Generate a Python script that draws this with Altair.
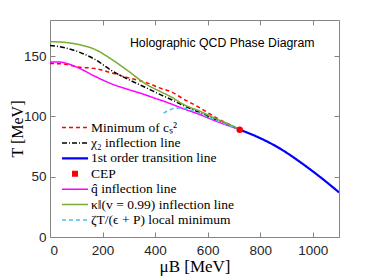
import altair as alt
import pandas as pd

# ---------------- data ----------------
labels = [
    "Minimum of cₛ²",
    "χ₂ inflection line",
    "1st order transition line",
    "CEP",
    "q̂ inflection line",
    "κ‖(v = 0.99) inflection line",
    "ζT/(ϵ + P) local minimum",
]

cs2_mu = [0, 44, 108, 171, 235, 299, 362, 426, 457, 508, 572, 635, 699, 722]
cs2_T = [143.9, 143.6, 141.0, 139.7, 136.1, 132.0, 128.4, 123.0, 120.9, 114.5, 107.0, 98.6, 91.7, 89.0]

chi2_mu = [0, 57, 108, 171, 235, 299, 362, 426, 457, 508, 572, 635, 699, 722]
chi2_T = [158.9, 157.0, 153.6, 147.3, 138.0, 130.6, 124.2, 117.5, 114.5, 109.0, 103.0, 97.0, 91.2, 89.0]

fo_mu = [722, 800, 850, 900, 950, 1000, 1050, 1100]
fo_T = [89.0, 82.0, 76.5, 70.0, 62.5, 54.5, 46.0, 37.0]

cep_mu = [722]
cep_T = [89.0]

qhat_mu = [0, 30, 60, 108, 171, 235, 299, 362, 381, 445, 508, 572, 635, 699, 722]
qhat_T = [145.0, 145.2, 144.2, 140.3, 133.3, 127.0, 122.3, 118.0, 116.5, 111.7, 106.4, 101.4, 95.8, 90.8, 89.0]

kappa_mu = [0, 57, 108, 171, 235, 299, 362, 426, 457, 508, 572, 635, 699, 722]
kappa_T = [162.0, 161.4, 159.7, 155.6, 147.3, 137.5, 127.3, 120.0, 116.7, 110.0, 104.2, 97.8, 91.7, 89.0]

zeta_mu = [432, 445, 460, 476, 495, 520, 572, 635, 699, 722]
zeta_T = [102.8, 104.3, 105.8, 106.8, 107.0, 106.3, 102.2, 96.4, 91.0, 89.0]

x_ticks = [0, 200, 400, 600, 800, 1000]
y_ticks = [0, 50, 100, 150]

# ---------------- styles ----------------
colors = ["#ff0000", "#000000", "#0000ff", "#ff0000", "#ff00ff", "#77ac30", "#4dbeee"]
dashes = [[4, 3], [5, 2, 1, 2], [1, 0], [0, 10, 6, 100], [1, 0], [1, 0], [4, 3]]
widths = [1.5, 1.5, 2.2, 6, 1.5, 1.5, 1.5]

series = [
    (labels[0], cs2_mu, cs2_T),
    (labels[1], chi2_mu, chi2_T),
    (labels[2], fo_mu, fo_T),
    (labels[4], qhat_mu, qhat_T),
    (labels[5], kappa_mu, kappa_T),
    (labels[6], zeta_mu, zeta_T),
]
rows = []
for name, mus, ts in series:
    for m, t in zip(mus, ts):
        rows.append({"series": name, "mu": m, "T": t})
df = pd.DataFrame(rows)
cep = pd.DataFrame({"mu": cep_mu, "T": cep_T})

xscale = alt.Scale(domain=[0, 1100], nice=False, zero=False)
yscale = alt.Scale(domain=[0, 180], nice=False, zero=False)

frame = "#858585"
tick_font = "Liberation Sans"
serif = "Liberation Serif"

legend = alt.Legend(
    orient="none", legendX=9, legendY=101, title=None,
    labelFont=serif, labelFontSize=13.5, labelColor="black",
    symbolSize=676, symbolType="stroke", clipHeight=13.2, rowPadding=0.4,
    labelOffset=0, labelLimit=400, padding=0,
)

lines = alt.Chart(df).mark_line(interpolate="monotone", clip=True).encode(
    x=alt.X("mu:Q", scale=xscale, axis=alt.Axis(
        values=x_ticks, format="d", grid=False, domain=False, tickSize=5, tickColor=frame,
        offset=-5, labelFont=tick_font, labelFontSize=13.5, labelColor="#262626",
        labelPadding=6, title="μB [MeV]", titleFont=serif, titleFontSize=17,
        titleFontWeight="normal", titleColor="black", titlePadding=2)),
    y=alt.Y("T:Q", scale=yscale, axis=alt.Axis(
        values=y_ticks, format="d", grid=False, domain=False, tickSize=5, tickColor=frame,
        offset=-5, labelFont=tick_font, labelFontSize=13.5, labelColor="#262626",
        labelPadding=4, title="T [MeV]", titleFont=serif, titleFontSize=16,
        titleFontWeight="normal", titleColor="black", titlePadding=-2)),
    color=alt.Color("series:N", scale=alt.Scale(domain=labels, range=colors), legend=legend),
    strokeDash=alt.StrokeDash("series:N", scale=alt.Scale(domain=labels, range=dashes), legend=legend),
    strokeWidth=alt.StrokeWidth("series:N", scale=alt.Scale(type="ordinal", domain=labels, range=widths), legend=legend),
)

point = alt.Chart(cep).mark_circle(size=42, color="#ff0000", opacity=1).encode(
    x=alt.X("mu:Q", scale=xscale, axis=alt.Axis(
        orient="top", values=x_ticks, grid=False, domain=False, labels=False,
        tickSize=5, tickColor=frame, offset=-5, title=None)),
    y=alt.Y("T:Q", scale=yscale, axis=alt.Axis(
        orient="right", values=y_ticks, grid=False, domain=False, labels=False,
        tickSize=5, tickColor=frame, offset=-5, title=None)),
)

chart = alt.layer(lines, point).resolve_axis(x="independent", y="independent").properties(
    width=289, height=217,
    autosize=alt.AutoSizeParams(type="none"),
    padding={"left": 42, "top": 12, "right": 27, "bottom": 43},
    title=alt.TitleParams(
        text="Holographic QCD Phase Diagram", anchor="end", dx=-25, offset=-30,
        font=tick_font, fontSize=12.3, fontWeight="normal", color="black"),
).configure_view(stroke=frame, strokeWidth=1)

chart.save("out.html", embed_options={"renderer": "svg", "actions": False})
